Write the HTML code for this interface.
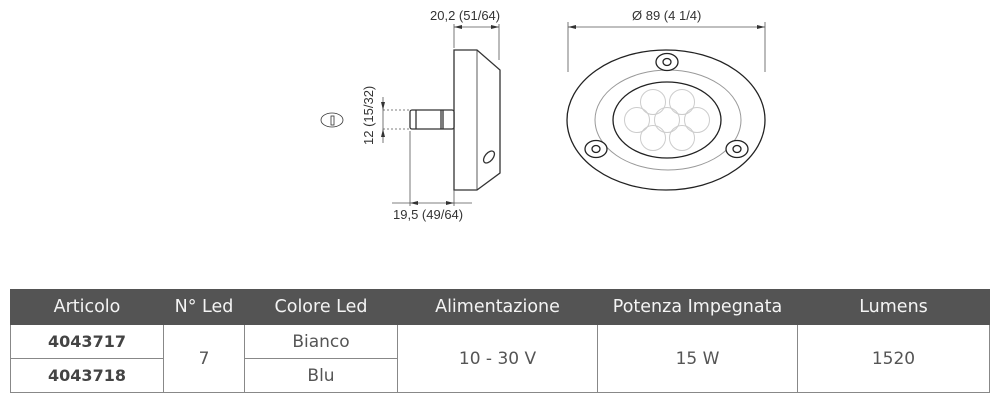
<!DOCTYPE html>
<html><head><style>
body{margin:0;background:#fff;width:1000px;height:400px;overflow:hidden;font-family:"Liberation Sans",sans-serif}
table{position:absolute;left:10px;top:289px;border-collapse:collapse;width:980px;font-family:"DejaVu Sans",sans-serif}
td,th{border:1px solid #888;text-align:center;color:#555;font-size:17px;padding:0}
th{background:#545454;color:#f4f4f4;font-weight:normal;height:34px;border-color:#545454;font-size:17.5px}
td{height:33px}
td.b{font-weight:bold;font-size:16px;color:#444}
</style></head><body>
<svg width="1000" height="290" style="position:absolute;left:0;top:0" font-family="Liberation Sans" font-size="13" fill="#333">
<g stroke="#333" fill="none" stroke-width="1.3">
<path d="M454 50 H477 L500 70 V173 L477 190 H454 Z" fill="#fff"/>
<line x1="477" y1="50" x2="477" y2="190" stroke-width="0.8"/>
<rect x="410" y="110" width="44" height="19" rx="2" fill="#fff"/>
<line x1="416" y1="110" x2="416" y2="129"/><line x1="441" y1="110" x2="441" y2="129"/><line x1="443" y1="110" x2="443" y2="129"/>
<ellipse cx="489" cy="157" rx="4" ry="7" transform="rotate(40 489 157)"/>
<ellipse cx="332" cy="120" rx="11" ry="7" stroke-width="0.8"/>
<rect x="331" y="116" width="3" height="9" stroke-width="0.8"/>
</g>
<g stroke="#555" stroke-width="0.8" fill="none">
<line x1="454" y1="24" x2="454" y2="48"/><line x1="499" y1="24" x2="499" y2="60"/>
<line x1="454" y1="27" x2="499" y2="27"/>
<line x1="383" y1="97" x2="383" y2="143"/>
<line x1="383" y1="110" x2="410" y2="110" stroke-dasharray="2 2"/><line x1="383" y1="129" x2="410" y2="129" stroke-dasharray="2 2"/>
<line x1="410" y1="131" x2="410" y2="206"/><line x1="454" y1="190" x2="454" y2="206"/>
<line x1="392" y1="203" x2="472" y2="203"/>
<line x1="568" y1="22" x2="568" y2="72"/><line x1="765" y1="22" x2="765" y2="72"/>
<line x1="568" y1="27" x2="765" y2="27"/>
</g>
<g fill="#333">
<path d="M454 27 l8 -2 v4z"/><path d="M499 27 l-8 -2 v4z"/>
<path d="M383 110 l-2 -8 h4z"/><path d="M383 129 l-2 8 h4z"/>
<path d="M410 203 l8 -2 v4z"/><path d="M454 203 l-8 -2 v4z"/>
<path d="M568 27 l8 -2 v4z"/><path d="M765 27 l-8 -2 v4z"/>
</g>
<text x="430" y="20">20,2 (51/64)</text>
<text x="393" y="219">19,5 (49/64)</text>
<text x="373" y="145" transform="rotate(-90 373 145)">12 (15/32)</text>
<text x="632" y="20">Ø 89 (4 1/4)</text>
<g fill="none" stroke="#222" stroke-width="1.3">
<ellipse cx="666" cy="120" rx="99" ry="70"/>
<ellipse cx="667" cy="120" rx="54" ry="38"/>
</g>
<ellipse cx="668" cy="120" rx="73" ry="50" fill="none" stroke="#999" stroke-width="1"/>
<g fill="none" stroke="#ccc" stroke-width="1">
<circle cx="653" cy="102" r="12.5"/><circle cx="682" cy="102" r="12.5"/>
<circle cx="637" cy="120" r="12.5"/><circle cx="667" cy="120" r="12.5"/><circle cx="697" cy="120" r="12.5"/>
<circle cx="653" cy="138" r="12.5"/><circle cx="682" cy="138" r="12.5"/>
</g>
<g fill="#fff" stroke="#222" stroke-width="1.3">
<ellipse cx="667" cy="62" rx="11" ry="8.5"/><ellipse cx="667" cy="62" rx="4" ry="3.5"/>
<ellipse cx="596" cy="149" rx="11" ry="8.5"/><ellipse cx="596" cy="149" rx="4" ry="3.5"/>
<ellipse cx="737" cy="149" rx="11" ry="8.5"/><ellipse cx="737" cy="149" rx="4" ry="3.5"/>
</g>
</svg>
<table>
<tr><th style="width:152px">Articolo</th><th style="width:80px">N° Led</th><th style="width:152px">Colore Led</th><th style="width:199px">Alimentazione</th><th style="width:199px">Potenza Impegnata</th><th>Lumens</th></tr>
<tr><td class="b">4043717</td><td rowspan="2">7</td><td>Bianco</td><td rowspan="2">10 - 30 V</td><td rowspan="2">15 W</td><td rowspan="2">1520</td></tr>
<tr><td class="b">4043718</td><td>Blu</td></tr>
</table>
</body></html>
